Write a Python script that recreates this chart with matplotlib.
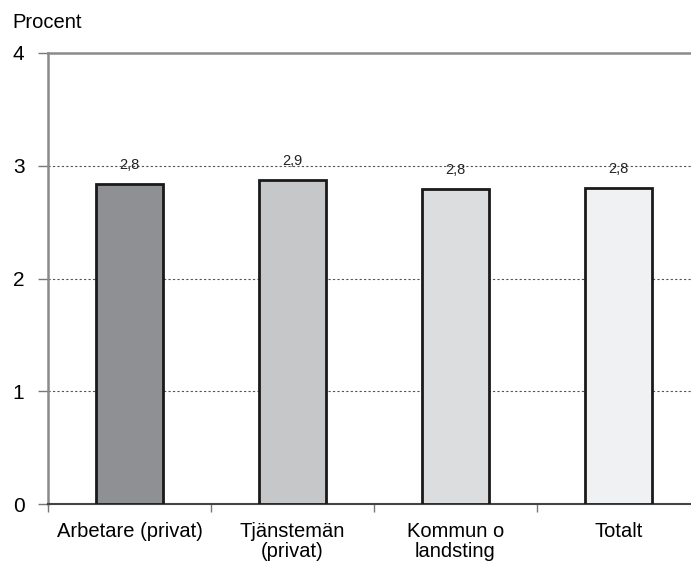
import matplotlib.pyplot as plt

categories = ['Arbetare (privat)', 'Tjänstemän\n(privat)', 'Kommun o\nlandsting', 'Totalt']
values = [2.84, 2.87, 2.79, 2.80]
labels = ['2,8', '2,9', '2,8', '2,8']
colors = ['#8f9094', '#c6c7c9', '#dcdddf', '#f0f1f3']

plt.rcParams['font.family'] = ['Liberation Sans', 'DejaVu Sans']

fig = plt.figure(figsize=(6.91, 5.62), dpi=100)
ax = fig.add_axes([48 / 691, 1 - 504 / 562, 652 / 691, 451 / 562])

x = range(len(categories))
ax.bar(x, values, width=0.405, color=colors, edgecolor='#1a1a1a', linewidth=2, zorder=3)

for i, v in enumerate(values):
    ax.text(i, v + 0.17, labels[i], ha='center', va='center', fontsize=10.5, color='#222222', zorder=4)

ax.set_xlim(-0.5, 3.5)
ax.set_ylim(0, 4)
ax.set_yticks([0, 1, 2, 3, 4])
ax.set_yticklabels(['0', '1', '2', '3', '4'], fontsize=15)
ax.set_xticks([-0.5, 0.5, 1.5, 2.5, 3.5], minor=False)
ax.set_xticklabels([])
ax.set_xticks(list(x), minor=True)
ax.set_xticklabels(categories, minor=True, fontsize=14.5, va='top', linespacing=1.05)
ax.tick_params(axis='x', which='minor', length=0, pad=13)
ax.tick_params(axis='x', which='major', length=6, color='#777777', width=1)
ax.tick_params(axis='y', length=7, color='#777777', width=1, pad=10)

for yv in [1, 2, 3]:
    ax.axhline(yv, color='#555555', linestyle=(0, (2, 2)), linewidth=0.8, zorder=1)

for s in ['left', 'bottom', 'top']:
    ax.spines[s].set_color('#8a8a8a')
    ax.spines[s].set_linewidth(1.8)
ax.spines['right'].set_visible(False)
ax.spines['bottom'].set_color('#444444')
ax.spines['bottom'].set_linewidth(1.5)

fig.text(12 / 691, 1 - 23 / 562, 'Procent', fontsize=14.5, va='center', ha='left')

fig.savefig('out.png', dpi=100)
